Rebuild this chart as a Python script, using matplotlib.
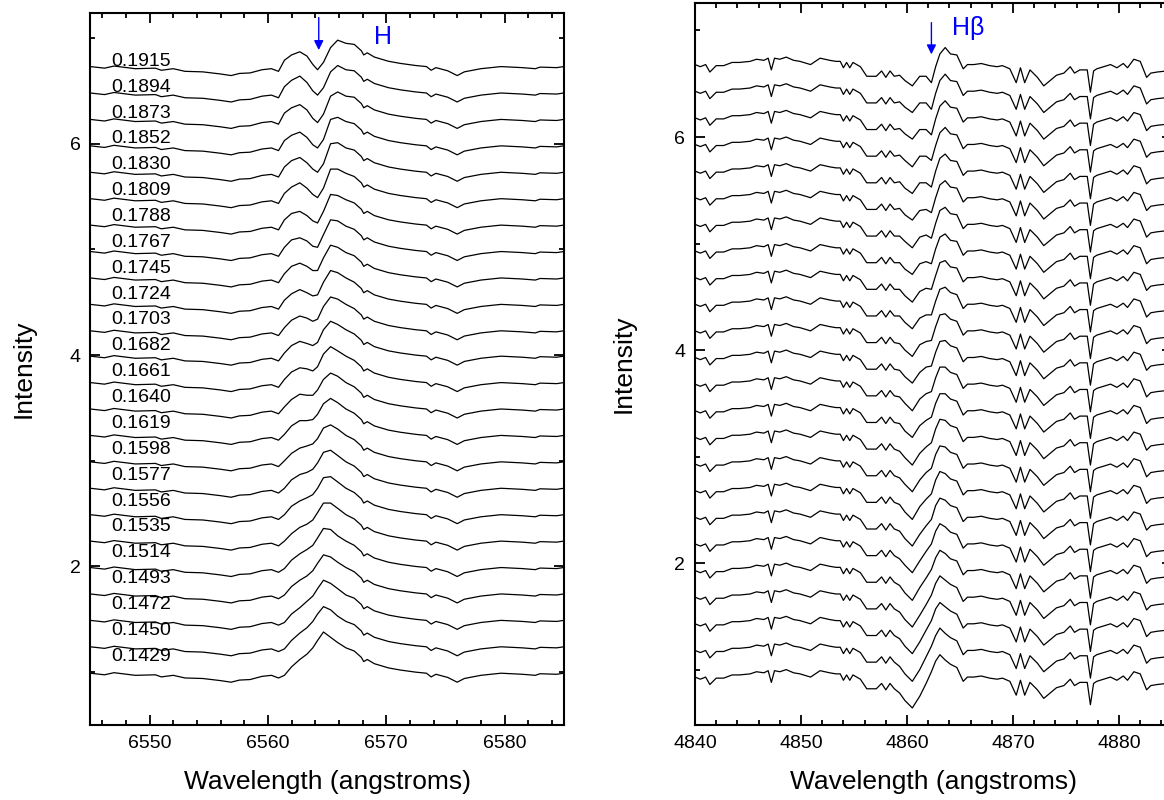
import matplotlib
matplotlib.use("Agg")
import matplotlib.pyplot as plt
from matplotlib.ticker import MultipleLocator
import numpy as np

plt.rcParams['font.family'] = ['Liberation Sans', 'DejaVu Sans']

# ---- H-alpha panel (left) ----
phases = ['0.1429', '0.1450', '0.1472', '0.1493', '0.1514', '0.1535', '0.1556', '0.1577',
          '0.1598', '0.1619', '0.1640', '0.1661', '0.1682', '0.1703', '0.1724', '0.1745',
          '0.1767', '0.1788', '0.1809', '0.1830', '0.1852', '0.1873', '0.1894', '0.1915']

ha_offsets = [0.99, 1.24, 1.49, 1.74, 1.99, 2.24, 2.49, 2.74, 2.99, 3.24, 3.49, 3.74,
              3.99, 4.23, 4.48, 4.73, 4.98, 5.23, 5.48, 5.73, 5.98, 6.23, 6.48, 6.73]

# continuum shape shared by all spectra (blue side / red side of the line core)
ha_blue_wl = [6545.0, 6546.2, 6547.0, 6548.8, 6550.5, 6551.0, 6552.0, 6553.0, 6554.5,
              6556.0, 6556.9, 6557.6, 6558.5, 6559.5, 6560.3, 6560.9]
ha_blue_val = [0.00, -0.015, 0.005, -0.02, -0.015, -0.035, -0.02, -0.045, -0.05,
               -0.07, -0.085, -0.065, -0.06, -0.03, -0.02, -0.045]
ha_red_wl = [6567.3, 6567.9, 6568.1, 6568.4, 6569.0, 6570.2, 6571.2, 6572.5, 6573.4,
             6573.8, 6574.2, 6575.2, 6576.0, 6576.6, 6578.0, 6579.7, 6581.5, 6582.6,
             6583.0, 6584.4, 6585.0]
ha_red_val = [0.21, 0.15, 0.11, 0.13, 0.09, 0.05, 0.03, 0.01, 0.00,
              -0.035, -0.01, -0.04, -0.085, -0.05, -0.02, 0.00, -0.01, -0.02,
              -0.005, -0.01, 0.00]

# line core, one row per spectrum (bottom to top)
ha_core_wl = [6561.4, 6562.0, 6562.7, 6563.3, 6563.8, 6564.2, 6564.7, 6565.3, 6565.9, 6566.6]
ha_core = [
    [-0.02, 0.06, 0.13, 0.18, 0.24, 0.31, 0.39, 0.34, 0.29, 0.24],
    [-0.02, 0.06, 0.13, 0.18, 0.24, 0.31, 0.38, 0.35, 0.29, 0.24],
    [-0.02, 0.06, 0.12, 0.18, 0.23, 0.30, 0.38, 0.35, 0.30, 0.24],
    [-0.01, 0.07, 0.13, 0.17, 0.22, 0.29, 0.37, 0.35, 0.30, 0.25],
    [-0.01, 0.07, 0.13, 0.17, 0.21, 0.28, 0.37, 0.36, 0.30, 0.25],
    [0.00, 0.07, 0.13, 0.16, 0.20, 0.27, 0.36, 0.36, 0.31, 0.25],
    [0.00, 0.08, 0.13, 0.16, 0.19, 0.25, 0.35, 0.36, 0.31, 0.25],
    [0.00, 0.08, 0.13, 0.15, 0.18, 0.24, 0.34, 0.36, 0.31, 0.25],
    [0.01, 0.08, 0.13, 0.15, 0.17, 0.22, 0.32, 0.35, 0.31, 0.25],
    [0.01, 0.09, 0.14, 0.14, 0.15, 0.20, 0.30, 0.35, 0.31, 0.25],
    [0.02, 0.09, 0.14, 0.13, 0.13, 0.18, 0.28, 0.34, 0.31, 0.25],
    [0.03, 0.10, 0.14, 0.13, 0.11, 0.15, 0.27, 0.34, 0.30, 0.25],
    [0.03, 0.10, 0.14, 0.12, 0.10, 0.13, 0.25, 0.33, 0.30, 0.25],
    [0.03, 0.10, 0.14, 0.12, 0.09, 0.11, 0.23, 0.32, 0.30, 0.25],
    [0.04, 0.10, 0.14, 0.11, 0.08, 0.09, 0.21, 0.32, 0.30, 0.25],
    [0.04, 0.11, 0.14, 0.11, 0.07, 0.07, 0.19, 0.31, 0.29, 0.24],
    [0.04, 0.11, 0.13, 0.10, 0.05, 0.04, 0.16, 0.30, 0.29, 0.24],
    [0.05, 0.11, 0.13, 0.09, 0.04, 0.02, 0.13, 0.29, 0.28, 0.24],
    [0.05, 0.11, 0.15, 0.10, 0.04, 0.01, 0.10, 0.28, 0.28, 0.24],
    [0.05, 0.11, 0.14, 0.09, 0.03, 0.00, 0.08, 0.27, 0.28, 0.23],
    [0.05, 0.10, 0.13, 0.08, 0.01, -0.02, 0.06, 0.25, 0.27, 0.23],
    [0.06, 0.11, 0.14, 0.09, 0.01, -0.03, 0.05, 0.22, 0.26, 0.22],
    [0.06, 0.12, 0.16, 0.10, 0.02, -0.02, 0.05, 0.20, 0.26, 0.22],
    [0.06, 0.11, 0.14, 0.10, 0.02, -0.03, 0.04, 0.18, 0.25, 0.22],
]

# ---- H-beta panel (right) ----
hb_offsets = [0.93, 1.18, 1.43, 1.68, 1.93, 2.18, 2.43, 2.68, 2.93, 3.18, 3.43, 3.68,
              3.93, 4.18, 4.43, 4.68, 4.93, 5.18, 5.43, 5.68, 5.93, 6.18, 6.43, 6.68]

hb_blue_wl = [4840.0, 4840.5, 4841.0, 4841.4, 4841.8, 4842.0, 4842.7, 4843.5, 4844.2,
              4845.2, 4845.8, 4846.5, 4846.9, 4847.2, 4847.5, 4848.0, 4848.6, 4849.3,
              4849.9, 4850.9, 4851.8, 4852.7, 4853.3, 4853.7, 4854.0, 4854.3, 4854.6,
              4854.9, 4855.6, 4856.2, 4857.1, 4857.6, 4858.0, 4858.4, 4858.8]
hb_blue_val = [0.00, -0.02, 0.00, -0.07, -0.03, -0.01, -0.01, 0.02, 0.02,
               0.03, 0.05, 0.04, 0.06, -0.05, 0.06, 0.05, 0.07, 0.04,
               0.03, 0.00, 0.06, 0.04, 0.03, 0.03, -0.03, 0.02, -0.03,
               0.02, -0.02, -0.11, -0.11, -0.06, -0.12, -0.06, -0.11]
hb_red_wl = [4864.7, 4865.3, 4865.7, 4866.3, 4867.0, 4867.8, 4868.5, 4869.0, 4869.7,
             4870.3, 4870.7, 4871.1, 4871.6, 4872.3, 4872.9, 4873.5, 4874.1, 4874.8,
             4875.4, 4875.8, 4876.3, 4877.0, 4877.3, 4877.6, 4877.9, 4879.2, 4879.8,
             4880.4, 4880.8, 4881.4, 4882.0, 4882.6, 4883.0, 4883.6, 4884.5, 4885.0]
hb_red_val = [0.09, -0.04, 0.00, 0.00, 0.01, -0.01, -0.02, -0.01, -0.04,
              -0.17, -0.03, -0.17, -0.05, -0.12, -0.20, -0.15, -0.10, -0.08,
              -0.02, -0.08, -0.05, -0.05, -0.26, -0.06, -0.04, 0.00, -0.03,
              0.01, -0.03, 0.05, 0.03, -0.12, -0.08, -0.07, -0.06, -0.06]

hb_core_wl = [4859.3, 4859.8, 4860.5, 4861.2, 4861.8, 4862.3, 4862.7, 4863.1, 4863.6, 4864.1]
hb_core = [
    [-0.15, -0.22, -0.29, -0.18, -0.06, 0.05, 0.15, 0.21, 0.16, 0.12],
    [-0.15, -0.22, -0.29, -0.18, -0.06, 0.04, 0.14, 0.21, 0.16, 0.12],
    [-0.14, -0.21, -0.28, -0.17, -0.06, 0.03, 0.14, 0.20, 0.16, 0.12],
    [-0.14, -0.21, -0.28, -0.17, -0.07, 0.02, 0.13, 0.20, 0.16, 0.12],
    [-0.14, -0.21, -0.28, -0.16, -0.07, 0.01, 0.12, 0.19, 0.16, 0.11],
    [-0.14, -0.20, -0.27, -0.16, -0.07, 0.00, 0.12, 0.19, 0.16, 0.11],
    [-0.13, -0.20, -0.27, -0.16, -0.08, -0.02, 0.11, 0.18, 0.16, 0.11],
    [-0.13, -0.20, -0.27, -0.15, -0.08, -0.03, 0.10, 0.18, 0.16, 0.11],
    [-0.13, -0.19, -0.26, -0.15, -0.08, -0.04, 0.09, 0.17, 0.16, 0.11],
    [-0.13, -0.19, -0.26, -0.15, -0.09, -0.05, 0.08, 0.17, 0.16, 0.11],
    [-0.12, -0.19, -0.25, -0.14, -0.09, -0.06, 0.07, 0.16, 0.16, 0.11],
    [-0.12, -0.18, -0.25, -0.14, -0.09, -0.07, 0.06, 0.16, 0.16, 0.11],
    [-0.12, -0.18, -0.24, -0.14, -0.09, -0.08, 0.05, 0.15, 0.16, 0.11],
    [-0.12, -0.18, -0.24, -0.13, -0.10, -0.09, 0.04, 0.15, 0.16, 0.11],
    [-0.11, -0.17, -0.23, -0.13, -0.10, -0.10, 0.03, 0.14, 0.16, 0.11],
    [-0.11, -0.17, -0.23, -0.13, -0.10, -0.11, 0.02, 0.14, 0.16, 0.10],
    [-0.11, -0.17, -0.22, -0.12, -0.10, -0.12, 0.02, 0.13, 0.16, 0.10],
    [-0.11, -0.16, -0.22, -0.12, -0.10, -0.13, 0.01, 0.13, 0.16, 0.10],
    [-0.10, -0.16, -0.21, -0.12, -0.11, -0.14, 0.00, 0.12, 0.16, 0.10],
    [-0.10, -0.16, -0.21, -0.11, -0.11, -0.15, 0.00, 0.12, 0.16, 0.10],
    [-0.10, -0.15, -0.21, -0.11, -0.11, -0.15, -0.01, 0.11, 0.16, 0.10],
    [-0.10, -0.15, -0.20, -0.11, -0.11, -0.16, -0.01, 0.11, 0.16, 0.10],
    [-0.10, -0.15, -0.20, -0.11, -0.11, -0.17, -0.02, 0.10, 0.16, 0.10],
    [-0.10, -0.15, -0.20, -0.11, -0.11, -0.17, -0.02, 0.10, 0.16, 0.10],
]


def style_axes(ax, major_x):
    for s in ax.spines.values():
        s.set_linewidth(1.5)
    ax.xaxis.set_major_locator(MultipleLocator(major_x))
    ax.xaxis.set_minor_locator(MultipleLocator(2))
    ax.yaxis.set_major_locator(MultipleLocator(2))
    ax.yaxis.set_minor_locator(MultipleLocator(1))
    ax.tick_params(which='both', direction='in', top=True, right=True, labelsize=14, width=1.3)
    ax.tick_params(which='major', length=7)
    ax.tick_params(which='minor', length=3.5)
    ax.tick_params(axis='y', pad=7)
    ax.tick_params(axis='x', pad=7)


def draw_stack(ax, blue_wl, blue_val, core_wl, core, red_wl, red_val, offsets):
    wl = np.array(blue_wl + core_wl + red_wl)
    for row, off in zip(core, offsets):
        vals = np.array(blue_val + row + red_val)
        ax.plot(wl, vals + off, color='black', lw=0.9)


fig = plt.figure(figsize=(11.64, 8), dpi=100)

# left panel
ax1 = fig.add_axes([0.0776, 0.09375, 0.4067, 0.8904])
draw_stack(ax1, ha_blue_wl, ha_blue_val, ha_core_wl, ha_core, ha_red_wl, ha_red_val, ha_offsets)
ax1.set_xlim(6545, 6585)
ax1.set_ylim(0.5, 7.24)
style_axes(ax1, 10)
label_y = np.linspace(1.15, 6.78, len(phases))
for lab, y in zip(phases, label_y):
    ax1.text(6546.8, y, lab, fontsize=14, va='center', ha='left')
ax1.annotate('', xy=(6564.3, 6.86), xytext=(6564.3, 7.22),
             arrowprops=dict(arrowstyle='-|>', color='blue', lw=1.0, mutation_scale=14))
ax1.text(6569.7, 7.01, 'H', color='blue', fontsize=18, ha='center', va='center')
ax1.set_xlabel('Wavelength (angstroms)', fontsize=19)
ax1.set_ylabel('Intensity', fontsize=19)
ax1.xaxis.set_label_coords(0.5, -0.063)
ax1.yaxis.set_label_coords(-0.115, 0.5)

# right panel (runs past the right edge of the figure)
ax2 = fig.add_axes([0.5971, 0.09375, 0.4098, 0.9021])
draw_stack(ax2, hb_blue_wl, hb_blue_val, hb_core_wl, hb_core, hb_red_wl, hb_red_val, hb_offsets)
ax2.set_xlim(4840, 4885)
ax2.set_ylim(0.48, 7.255)
style_axes(ax2, 10)
ax2.annotate('', xy=(4862.3, 6.75), xytext=(4862.3, 7.10),
             arrowprops=dict(arrowstyle='-|>', color='blue', lw=1.0, mutation_scale=14))
ax2.text(4864.2, 7.02, 'H\u03b2', color='blue', fontsize=18, ha='left', va='center')
ax2.set_xlabel('Wavelength (angstroms)', fontsize=19)
ax2.set_ylabel('Intensity', fontsize=19)
ax2.xaxis.set_label_coords(0.5, -0.062)
ax2.yaxis.set_label_coords(-0.124, 0.5)

fig.savefig('out.png', dpi=100)
